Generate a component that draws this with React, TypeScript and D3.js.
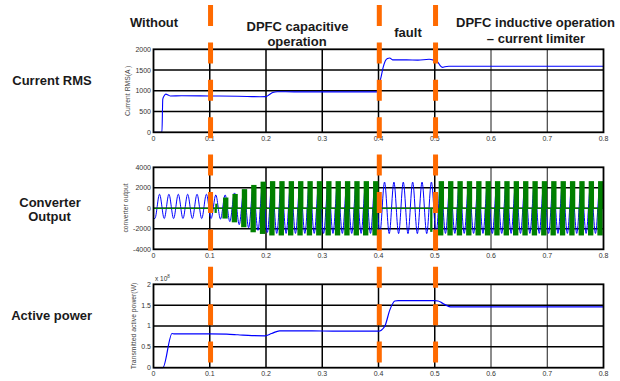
import * as d3 from 'd3'

// time axis shared by the three scopes
const timeTicks = [0, 0.1, 0.2, 0.3, 0.4, 0.5, 0.6, 0.7, 0.8]
const eventTimes = [0.1, 0.4, 0.5]

// Current RMS (A)
const rmsTicks = [0, 500, 1000, 1500, 2000]
const rmsTime = [0, 0.015, 0.0165, 0.019, 0.022, 0.026, 0.03, 0.05, 0.1, 0.15, 0.19, 0.2, 0.205, 0.212, 0.22, 0.25, 0.3, 0.35, 0.399,
  0.4015, 0.404, 0.408, 0.412, 0.416, 0.42, 0.425, 0.45, 0.47, 0.49, 0.496, 0.502, 0.506, 0.51, 0.514, 0.518, 0.525, 0.6, 0.7, 0.8]
const rmsValue = [0, 0, 800, 880, 920, 900, 875, 880, 875, 870, 858, 860, 900, 960, 978, 975, 975, 975, 975,
  1200, 1300, 1550, 1720, 1780, 1790, 1745, 1745, 1740, 1760, 1745, 1740, 1680, 1600, 1565, 1580, 1590, 1590, 1590, 1590]

// converter output: 60 Hz line signal (blue) read as one peak / trough per cycle
const convTicks = [-4000, -2000, 0, 2000, 4000]
const lineFreq = 60
const firstTrough = 0.0024
const blueTrough = [-1000, -1000, -1000, -1000, -1000, -1000, -1000, -1050, -1300, -1600, -1900, -2150, -2350,
  -2450, -2450, -2450, -2450, -2450, -2450, -2450, -2450, -2450, -2450, -2450, -2450,
  -2470, -2470, -2470, -2470, -2470, -2450, -2450, -2450, -2450, -2450, -2450, -2450, -2450, -2450,
  -2450, -2450, -2450, -2450, -2450, -2450, -2450, -2450, -2450, -2450]
const bluePeak = [1370, 1370, 1370, 1370, 1370, 1370, 1300, 1300, 1500, 1800, 2050, 2300,
  2500, 2500, 2500, 2500, 2500, 2500, 2500, 2500, 2500, 2500, 2500, 2500,
  2560, 2560, 2560, 2560, 2560, 2560,
  2500, 2500, 2500, 2500, 2500, 2500, 2500, 2500, 2500, 2500, 2500, 2500, 2500, 2500, 2500, 2500, 2500, 2500]
// switched DPFC output (green), one burst per cycle
const greenTop = [0, 0, 0, 0, 0, 0, 450, 1050, 1400, 1870, 2280, 2600,
  2650, 2650, 2650, 2650, 2650, 2650, 2650, 2650, 2650, 2650, 2650, 2650,
  0, 0, 0, 0, 0, 0,
  2650, 2650, 2650, 2650, 2650, 2650, 2650, 2650, 2650, 2650, 2650, 2650, 2650, 2650, 2650, 2650, 2650, 2650]
const greenBottom = [0, 0, 0, 0, 0, 0, -450, -1000, -1370, -1850, -2340, -2500,
  -2650, -2650, -2650, -2650, -2650, -2650, -2650, -2650, -2650, -2650, -2650, -2650,
  0, 0, 0, 0, 0, -2300,
  -2650, -2650, -2650, -2650, -2650, -2650, -2650, -2650, -2650, -2650, -2650, -2650, -2650, -2650, -2650, -2650, -2650, -2650]

// transmitted active power (x 10^8 W)
const powerTicks = [0, 0.5, 1, 1.5, 2]
const powerTime = [0, 0.0166, 0.033, 0.037, 0.05, 0.1, 0.13, 0.15, 0.175, 0.198, 0.21, 0.224, 0.24, 0.3, 0.35, 0.4,
  0.405, 0.412, 0.42, 0.429, 0.435, 0.45, 0.5, 0.506, 0.512, 0.52, 0.528, 0.6, 0.7, 0.8]
const powerValue = [0, 0, 0.82, 0.81, 0.81, 0.81, 0.805, 0.79, 0.77, 0.765, 0.82, 0.885, 0.885, 0.88, 0.875, 0.875,
  0.9, 1.02, 1.38, 1.6, 1.61, 1.61, 1.61, 1.6, 1.56, 1.5, 1.46, 1.46, 1.46, 1.46]

const W = 620
const H = 381
const FONT = 'Arial, "Liberation Sans", sans-serif'
const ORANGE = '#ff6a00'
const BLUE = '#0000ff'
const GREEN = '#008000'

const x = d3.scaleLinear().domain([0, 0.8]).range([153.5, 603.5])

type Pt = [number, number]

function Panel({ y, ticks, fmt, id, children }) {
  const [top, bottom] = [y.range()[1], y.range()[0]]
  const x0 = x.range()[0]
  const x1 = x.range()[1]
  return (
    <g>
      <clipPath id={id}>
        <rect x={x0} y={top - 1} width={x1 - x0} height={bottom - top + 2} />
      </clipPath>
      {/* grid */}
      {timeTicks.slice(1, -1).map(t => (
        <line key={'v' + t} x1={x(t)} x2={x(t)} y1={top} y2={bottom} stroke="#000"
          strokeWidth={t > 0.55 ? 0.9 : 1.5} />
      ))}
      {ticks.slice(1, -1).map(v => (
        <line key={'h' + v} x1={x0} x2={x1} y1={y(v)} y2={y(v)} stroke="#000" strokeWidth={1.5} />
      ))}
      <g clipPath={`url(#${id})`}>{children}</g>
      <rect x={x0} y={top} width={x1 - x0} height={bottom - top} fill="none" stroke="#000" strokeWidth={1.8} />
      {/* tick labels */}
      {ticks.map(v => (
        <text key={'yl' + v} x={x0 - 2.5} y={y(v)} dy="0.35em" textAnchor="end" fontSize={7} fill="#333">{fmt(v)}</text>
      ))}
      {timeTicks.map(t => (
        <text key={'xl' + t} x={x(t)} y={bottom + 8.5} textAnchor="middle" fontSize={7} fill="#333">{t === 0 ? '0' : t.toFixed(1)}</text>
      ))}
    </g>
  )
}

export default function App() {
  const y1 = d3.scaleLinear().domain([0, 2000]).range([132.3, 49.3])
  const y2 = d3.scaleLinear().domain([-4000, 4000]).range([249.3, 167.3])
  const y3 = d3.scaleLinear().domain([0, 2]).range([367.7, 284.3])

  const rmsLine = d3.line<Pt>().x(d => x(d[0])).y(d => y1(d[1])).curve(d3.curveMonotoneX)
  const powerLine = d3.line<Pt>().x(d => x(d[0])).y(d => y3(d[1])).curve(d3.curveMonotoneX)
  const waveLine = d3.line<Pt>().x(d => x(d[0])).y(d => y2(d[1])).curve(d3.curveMonotoneX)

  const rmsPts: Pt[] = rmsTime.map((t, i) => [t, rmsValue[i]])
  const powerPts: Pt[] = powerTime.map((t, i) => [t, powerValue[i]])

  const period = 1 / lineFreq
  const wavePts: Pt[] = [[0, blueTrough[0] + 20]]
  blueTrough.forEach((v, k) => {
    wavePts.push([firstTrough + k * period, v])
    if (k < bluePeak.length) wavePts.push([firstTrough + k * period + period / 2, bluePeak[k]])
  })

  const burstW = 0.0095
  const bursts = greenTop.map((top, k) => ({
    t: firstTrough + k * period + period / 2 + 0.001,
    top,
    bottom: greenBottom[k],
    w: Math.max(top, -greenBottom[k]) < 600 ? 0.004 : (top === 0 ? 0.004 : burstW)
  }))

  return (
    <svg width={W} height={H} style={{ position: 'absolute', left: 0, top: 0, background: '#fff' }} fontFamily={FONT}>
      {/* phase titles */}
      <g fontWeight="bold" fontSize={13} fill="#1a1a1a" textAnchor="middle">
        <text x={154} y={27.3}>Without</text>
        <text x={297.5} y={31}>DPFC capacitive</text>
        <text x={297} y={46}>operation</text>
        <text x={408} y={36.5}>fault</text>
        <text x={535.5} y={27.3}>DPFC inductive operation</text>
        <text x={536} y={43.3}>– current limiter</text>
        <text x={52} y={84.5}>Current RMS</text>
        <text x={50} y={206.7}>Converter</text>
        <text x={49.5} y={220.5}>Output</text>
        <text x={51.7} y={320}>Active power</text>
      </g>

      {/* Current RMS */}
      <Panel y={y1} ticks={rmsTicks} fmt={v => String(v)} id="c1">
        <path d={rmsLine(rmsPts)} fill="none" stroke={BLUE} strokeWidth={1.1} />
      </Panel>
      <text transform="translate(127.5,90.8) rotate(-90)" textAnchor="middle" dy="0.35em" fontSize={6.8} fill="#444">Current RMS(A )</text>

      {/* Converter output */}
      <Panel y={y2} ticks={convTicks} fmt={v => String(v)} id="c2">
        <path d={waveLine(wavePts)} fill="none" stroke={BLUE} strokeWidth={1} />
        <line x1={x(0)} x2={x(0.8)} y1={y2(0)} y2={y2(0)} stroke={GREEN} strokeWidth={1.3} />
        {bursts.filter(b => b.top > 0).map((b, i) => (
          <rect key={'gt' + i} x={x(b.t - b.w / 2)} width={x(b.w) - x(0)} y={y2(b.top)} height={y2(0) - y2(b.top)} fill={GREEN} />
        ))}
        {bursts.filter(b => b.bottom < 0).map((b, i) => (
          <rect key={'gb' + i} x={x(b.t - b.w / 2 - 0.0012)} width={x(b.w) - x(0)} y={y2(0)} height={y2(b.bottom) - y2(0)} fill={GREEN} />
        ))}
      </Panel>
      <text transform="translate(125.5,208) rotate(-90)" textAnchor="middle" dy="0.35em" fontSize={6.8} fill="#444">converter output</text>

      {/* Active power */}
      <Panel y={y3} ticks={powerTicks} fmt={v => String(v)} id="c3">
        <path d={powerLine(powerPts)} fill="none" stroke={BLUE} strokeWidth={1.2} />
      </Panel>
      <text transform="translate(133.5,326) rotate(-90)" textAnchor="middle" dy="0.35em" fontSize={6.8} fill="#444">Transmitted active power(W)</text>
      <text x={155} y={281} fontSize={6.5} fill="#333">x 10<tspan dy={-3} fontSize={4.5}>8</tspan></text>

      {/* event markers */}
      {eventTimes.map(t => (
        <line key={'ev' + t} x1={x(t) + 0.8} x2={x(t) + 0.8} y1={5} y2={362.5}
          stroke={ORANGE} strokeWidth={5} strokeDasharray="21 16.4" />
      ))}
    </svg>
  )
}
